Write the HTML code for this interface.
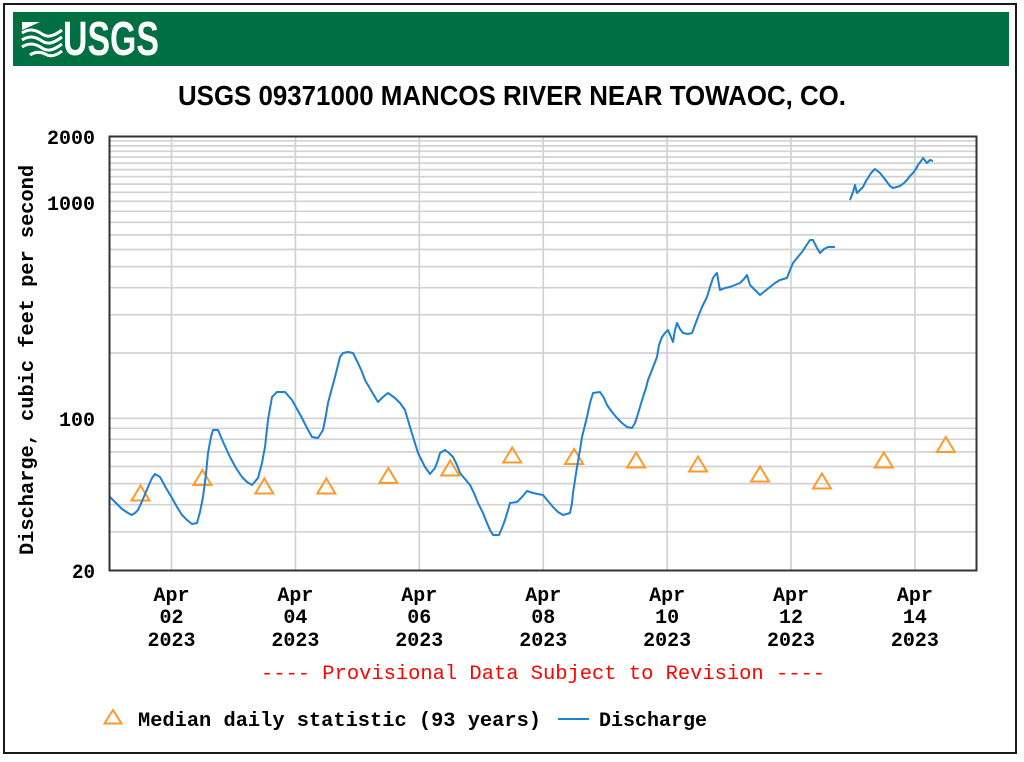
<!DOCTYPE html>
<html>
<head>
<meta charset="utf-8">
<style>
  html, body { margin: 0; padding: 0; background: #ffffff; }
  svg { display: block; }
  .mono { font-family: "Liberation Mono", "DejaVu Sans Mono", monospace; font-weight: bold; }
</style>
</head>
<body>
<svg width="1024" height="762" viewBox="0 0 1024 762" xmlns="http://www.w3.org/2000/svg">
  <rect x="0" y="0" width="1024" height="762" fill="#ffffff"/>
  <!-- outer frame -->
  <rect x="4" y="4" width="1012" height="749" fill="none" stroke="#1a1a1a" stroke-width="2"/>

  <!-- USGS banner -->
  <rect x="13" y="12" width="996" height="54" fill="#006f41"/>
  <g fill="none" stroke="#ffffff" stroke-linecap="butt">
    <path d="M22,22 L40,22 L22,30 Z" fill="#ffffff" stroke="none"/>
    <path d="M22,33 C30,28 36,30 42,34 C48,38 54,36 62,30" stroke-width="3"/>
    <path d="M22,40 C30,35 36,37 42,41 C48,45 54,43 62,37" stroke-width="3"/>
    <path d="M22,47 C30,42 36,44 42,48 C48,52 54,50 62,44" stroke-width="3"/>
    <path d="M30,55 C36,51 42,52 47,55 C52,57 57,55 62,51" stroke-width="3"/>
  </g>
  <text x="63" y="55" fill="#ffffff" font-family="'Liberation Sans Narrow', 'Liberation Sans', sans-serif" font-weight="bold" font-size="48" textLength="96" lengthAdjust="spacingAndGlyphs">USGS</text>

  <!-- title -->
  <text x="178" y="105" fill="#000000" font-family="'Liberation Sans Narrow', 'Liberation Sans', sans-serif" font-weight="bold" font-size="28" textLength="668" lengthAdjust="spacingAndGlyphs">USGS 09371000 MANCOS RIVER NEAR TOWAOC, CO.</text>

  <!-- gridlines -->
  <g stroke="#d2d2d2" stroke-width="1.7">
    <line x1="110" x2="976" y1="531.8" y2="531.8"/>
    <line x1="110" x2="976" y1="504.7" y2="504.7"/>
    <line x1="110" x2="976" y1="483.6" y2="483.6"/>
    <line x1="110" x2="976" y1="466.5" y2="466.5"/>
    <line x1="110" x2="976" y1="451.9" y2="451.9"/>
    <line x1="110" x2="976" y1="439.3" y2="439.3"/>
    <line x1="110" x2="976" y1="428.3" y2="428.3"/>
    <line x1="110" x2="976" y1="418.3" y2="418.3"/>
    <line x1="110" x2="976" y1="353" y2="353"/>
    <line x1="110" x2="976" y1="314.8" y2="314.8"/>
    <line x1="110" x2="976" y1="287.7" y2="287.7"/>
    <line x1="110" x2="976" y1="266.6" y2="266.6"/>
    <line x1="110" x2="976" y1="249.5" y2="249.5"/>
    <line x1="110" x2="976" y1="234.9" y2="234.9"/>
    <line x1="110" x2="976" y1="222.3" y2="222.3"/>
    <line x1="110" x2="976" y1="211.3" y2="211.3"/>
    <line x1="110" x2="976" y1="201.3" y2="201.3"/>
    <line x1="110" x2="976" y1="192.3" y2="192.3"/>
    <line x1="110" x2="976" y1="184.1" y2="184.1"/>
    <line x1="110" x2="976" y1="176.6" y2="176.6"/>
    <line x1="110" x2="976" y1="169.6" y2="169.6"/>
    <line x1="110" x2="976" y1="163.1" y2="163.1"/>
    <line x1="110" x2="976" y1="157.0" y2="157.0"/>
    <line x1="110" x2="976" y1="151.3" y2="151.3"/>
    <line x1="110" x2="976" y1="145.9" y2="145.9"/>
    <line x1="110" x2="976" y1="140.8" y2="140.8"/>
    <line x1="171.5" x2="171.5" y1="137" y2="570"/>
    <line x1="295.4" x2="295.4" y1="137" y2="570"/>
    <line x1="419.3" x2="419.3" y1="137" y2="570"/>
    <line x1="543.2" x2="543.2" y1="137" y2="570"/>
    <line x1="667.1" x2="667.1" y1="137" y2="570"/>
    <line x1="791" x2="791" y1="137" y2="570"/>
    <line x1="914.9" x2="914.9" y1="137" y2="570"/>
  </g>

  <!-- median triangles -->
  <g fill="none" stroke="#ff9a2a" stroke-width="2" stroke-linejoin="miter">
    <polygon points="140.5,485.5 131.5,500.5 149.5,500.5"/>
    <polygon points="202.4,470 193.4,485 211.4,485"/>
    <polygon points="264.3,478.5 255.3,493.5 273.3,493.5"/>
    <polygon points="326.3,478.5 317.3,493.5 335.3,493.5"/>
    <polygon points="388.3,468 379.3,483 397.3,483"/>
    <polygon points="450.2,460.5 441.2,475.5 459.2,475.5"/>
    <polygon points="512.2,447.5 503.2,462.5 521.2,462.5"/>
    <polygon points="574.1,449 565.1,464 583.1,464"/>
    <polygon points="636.1,452.5 627.1,467.5 645.1,467.5"/>
    <polygon points="698,456.5 689,471.5 707,471.5"/>
    <polygon points="760,466.5 751,481.5 769,481.5"/>
    <polygon points="821.9,473.5 812.9,488.5 830.9,488.5"/>
    <polygon points="883.8,452.5 874.8,467.5 892.8,467.5"/>
    <polygon points="945.8,437 936.8,452 954.8,452"/>
  </g>

  <!-- discharge -->
  <g fill="none" stroke="#1f7fd1" stroke-width="2" stroke-linejoin="round">
    <polyline points="110,497 116,503 122,509 128,513 131.7,515 135,513 138,510 143,499 148,487 152,478 155,474 160,477 166,488 172,498 177,507 182,515 187,520 192,524 197,523 200,512 203,497 206,474 208,453 211,437 213,430 218,430 224,444 230,457 236,468 242,477 247,482 252,485 258,478 262,463 265,447 268,420 272,397 277,392 285,392 292,400 297,409 302,418 307,428 312,437 318,438 323,430 326,415 328,403 332,388 335,377 338,365 340,357 343,353 348,352 353,353 358,363 362,372 365,380 372,392 378,402 383,397 388,393 395,398 400,403 405,410 410,427 414,440 418,453 422,461 425,467 430,474 435,468 438,460 440,453 445,450 449,453 453,457 457,465 460,473 465,479 470,485 474,493 478,503 483,513 487,523 490,530 493,535 499,535 502,528 505,520 508,510 510,503 517,502 522,497 527,491 533,493 538,494 543,495 548,501 553,507 558,512 563,515 570,513 572,503 573,493 575,480 577,467 580,450 582,437 585,425 587,417 590,403 593,393 600,392 604,398 607,405 612,412 617,418 622,423 627,427 632,428 635,423 637,417 640,407 643,397 646,388 648,380 652,370 657,357 659,345 662,337 665,333 668,330 671,337 673,342 675,330 677,323 680,329 683,333 688,334 692,333 695,325 698,317 702,307 707,297 710,287 713,278 715,275 717,273 719,285 720,290 725,288 730,287 735,285 740,283 744,279 747,275 750,285 755,290 760,295 765,291 770,287 775,283 780,280 787,278 790,270 793,263 797,258 802,252 806,246 810,240 813,240 817,248 820,253 824,249 828,247 835,247"/>
    <polyline points="850,200 853,192 855,185 857,193 860,190 863,187 866,181 868,178 871,173 875,169 880,173 884,178 887,182 890,186 893,188 900,186 904,183 907,180 910,176 913,173 916,169 918,165 921,161 923,158 927,163 930,160 933,161"/>
  </g>

  <!-- plot frame -->
  <rect x="109.5" y="136.5" width="867" height="434" fill="none" stroke="#333333" stroke-width="2"/>

  <!-- y tick labels -->
  <g class="mono" font-size="20" fill="#000000" text-anchor="end">
    <text x="95" y="144" textLength="48" lengthAdjust="spacingAndGlyphs">2000</text>
    <text x="95" y="210" textLength="48" lengthAdjust="spacingAndGlyphs">1000</text>
    <text x="95" y="426" textLength="36" lengthAdjust="spacingAndGlyphs">100</text>
    <text x="95" y="578" textLength="23" lengthAdjust="spacingAndGlyphs">20</text>
  </g>

  <!-- y axis title -->
  <text class="mono" x="33" y="360" font-size="20" fill="#000000" text-anchor="middle" transform="rotate(-90 33 360)" textLength="390" lengthAdjust="spacingAndGlyphs">Discharge, cubic feet per second</text>

  <!-- x tick labels -->
  <g class="mono" font-size="20" fill="#000000" text-anchor="middle">
    <text x="171.5" y="601">Apr</text><text x="171.5" y="623">02</text><text x="171.5" y="646">2023</text>
    <text x="295.4" y="601">Apr</text><text x="295.4" y="623">04</text><text x="295.4" y="646">2023</text>
    <text x="419.3" y="601">Apr</text><text x="419.3" y="623">06</text><text x="419.3" y="646">2023</text>
    <text x="543.2" y="601">Apr</text><text x="543.2" y="623">08</text><text x="543.2" y="646">2023</text>
    <text x="667.1" y="601">Apr</text><text x="667.1" y="623">10</text><text x="667.1" y="646">2023</text>
    <text x="791" y="601">Apr</text><text x="791" y="623">12</text><text x="791" y="646">2023</text>
    <text x="914.9" y="601">Apr</text><text x="914.9" y="623">14</text><text x="914.9" y="646">2023</text>
  </g>

  <!-- provisional -->
  <text x="261" y="679" font-family="'Liberation Mono', 'DejaVu Sans Mono', monospace" font-size="20" fill="#ff0000" textLength="564" lengthAdjust="spacingAndGlyphs">---- Provisional Data Subject to Revision ----</text>

  <!-- legend -->
  <polygon points="113,710 104.5,723.5 121.5,723.5" fill="none" stroke="#ff9a2a" stroke-width="2"/>
  <text class="mono" x="138" y="726" font-size="20" fill="#000000" textLength="403" lengthAdjust="spacingAndGlyphs">Median daily statistic (93 years)</text>
  <line x1="558" x2="589" y1="719" y2="719" stroke="#1f7fd1" stroke-width="2"/>
  <text class="mono" x="599" y="726" font-size="20" fill="#000000" textLength="108" lengthAdjust="spacingAndGlyphs">Discharge</text>
</svg>
</body>
</html>
